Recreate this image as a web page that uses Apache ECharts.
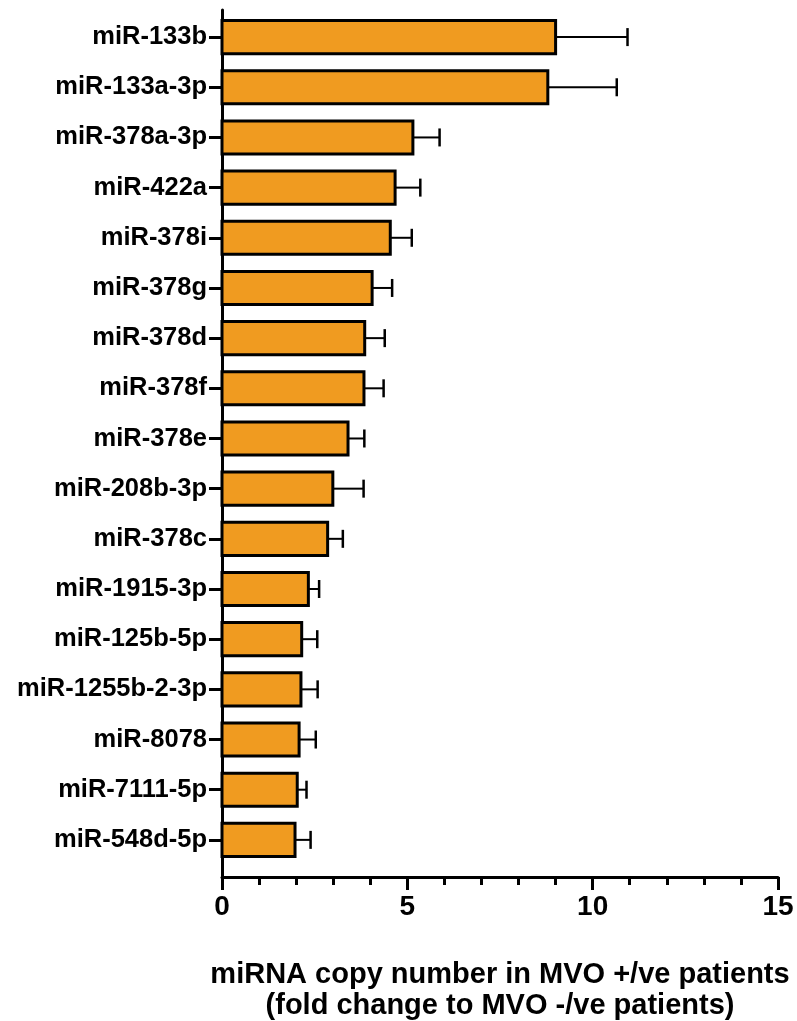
<!DOCTYPE html>
<html>
<head>
<meta charset="utf-8">
<script src="https://cdn.jsdelivr.net/npm/echarts@6/dist/echarts.min.js"></script>
<style>
  html, body { margin: 0; padding: 0; background: #fff; }
  #main { width: 797px; height: 1021px; }
</style>
</head>
<body>
<div id="main"></div>
<script>
// miRNA names, top to bottom
var mirnas = ['miR-133b', 'miR-133a-3p', 'miR-378a-3p', 'miR-422a', 'miR-378i', 'miR-378g',
  'miR-378d', 'miR-378f', 'miR-378e', 'miR-208b-3p', 'miR-378c', 'miR-1915-3p',
  'miR-125b-5p', 'miR-1255b-2-3p', 'miR-8078', 'miR-7111-5p', 'miR-548d-5p']
// fold change (bar length)
var foldChange = [9.00, 8.79, 5.15, 4.67, 4.54, 4.05, 3.85, 3.83, 3.40, 2.99, 2.85,
  2.33, 2.15, 2.13, 2.08, 2.03, 1.97]
// upper end of the error bar
var errorTop = [10.94, 10.65, 5.87, 5.35, 5.12, 4.59, 4.39, 4.36, 3.84, 3.82, 3.26,
  2.62, 2.57, 2.58, 2.53, 2.28, 2.39]
var xTicks = [0, 5, 10, 15]

var font = "'Liberation Sans', Arial, sans-serif"
var rows = mirnas.map(function (name, i) {
  return [foldChange[i], i, errorTop[i]]
})
var idx = mirnas.map(function (n, i) { return i })

var myChart = echarts.init(document.getElementById('main'))
myChart.setOption({
  animation: false,
  grid: { left: 222, right: 19, top: 10, bottom: 144, outerBoundsMode: 'none', containLabel: false },
  xAxis: {
    type: 'value',
    position: 'bottom',
    min: xTicks[0],
    max: xTicks[xTicks.length - 1],
    interval: 5,
    name: 'miRNA copy number in MVO +/ve patients\n(fold change to MVO -/ve patients)',
    nameLocation: 'middle',
    nameGap: 82,
    nameTextStyle: {
      color: '#000', fontFamily: font, fontWeight: 'bold', fontSize: 29, lineHeight: 31
    },
    axisLine: { onZero: false, lineStyle: { color: '#000', width: 3 } },
    axisTick: { length: 13, lineStyle: { color: '#000', width: 3 } },
    minorTick: { show: true, splitNumber: 5, length: 8, lineStyle: { color: '#000', width: 3 } },
    splitLine: { show: false },
    axisLabel: { color: '#000', fontFamily: font, fontWeight: 'bold', fontSize: 28, margin: 16 }
  },
  yAxis: {
    type: 'value',
    inverse: true,
    min: -0.54,
    max: 16.74,
    axisLine: { show: true, onZero: false, lineStyle: { color: '#000', width: 3 } },
    axisTick: { show: true, customValues: idx, length: 13, lineStyle: { color: '#000', width: 3 } },
    splitLine: { show: false },
    axisLabel: {
      customValues: idx,
      margin: 15,
      color: '#000', fontFamily: font, fontWeight: 'bold', fontSize: 25.5,
      formatter: function (v) { return mirnas[Math.round(v)] }
    }
  },
  series: [{
    type: 'custom',
    data: rows,
    encode: { x: 0, y: 1 },
    renderItem: function (params, api) {
      var y = api.value(1)
      var p0 = api.coord([0, y])
      var p1 = api.coord([api.value(0), y])
      var pe = api.coord([api.value(2), y])
      var band = api.size([0, 1])[1]
      var h = band * 0.66
      var cap = 18
      return {
        type: 'group',
        children: [{
          type: 'line',
          shape: { x1: p1[0], y1: p1[1], x2: pe[0], y2: pe[1] },
          style: { stroke: '#000', lineWidth: 2 }
        }, {
          type: 'line',
          shape: { x1: pe[0], y1: pe[1] - cap / 2, x2: pe[0], y2: pe[1] + cap / 2 },
          style: { stroke: '#000', lineWidth: 2.5 }
        }, {
          type: 'rect',
          shape: { x: p0[0], y: p0[1] - h / 2, width: p1[0] - p0[0], height: h },
          style: { fill: '#F09B20', stroke: '#000', lineWidth: 3 }
        }]
      }
    }
  }]
})
</script>
</body>
</html>
